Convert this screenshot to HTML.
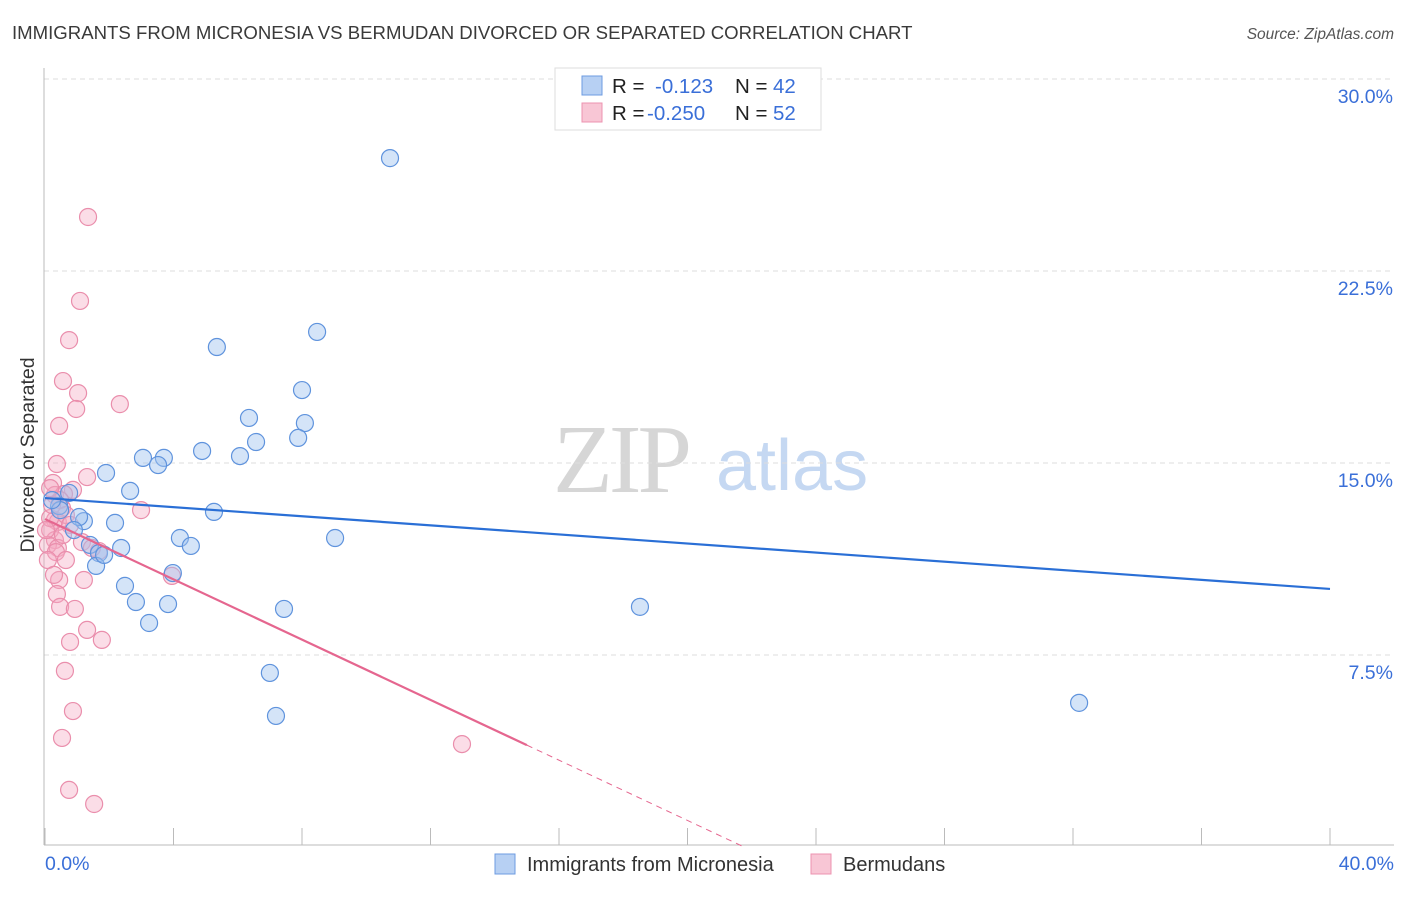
<!DOCTYPE html>
<html><head><meta charset="utf-8"><style>
body{margin:0;background:#fff;font-family:"Liberation Sans",sans-serif}
svg text{font-family:"Liberation Sans",sans-serif}
</style></head><body>
<svg id="chart" width="1406" height="892" viewBox="0 0 1406 892" xmlns="http://www.w3.org/2000/svg">
<text x="12" y="39" font-size="18.6" fill="#3a3a3a">IMMIGRANTS FROM MICRONESIA VS BERMUDAN DIVORCED OR SEPARATED CORRELATION CHART</text>
<text x="1394" y="39" font-size="15.5" fill="#555" font-style="italic" text-anchor="end">Source: ZipAtlas.com</text>
<g>
<text x="553" y="492" font-size="98" font-family="Liberation Serif" fill="#d6d6d6" letter-spacing="-4" style="font-family:'Liberation Serif',serif">ZIP</text>
<text x="716" y="490" font-size="72" fill="#c5d8f2">atlas</text>
</g>
<text transform="translate(34,455) rotate(-90)" font-size="19.5" fill="#333" text-anchor="middle">Divorced or Separated</text>
<g id="grid"></g>
<g id="axes"></g>
<g id="pts"></g>
<g id="lines"></g>
<g>
<rect x="555" y="68" width="266" height="62" fill="#fff" stroke="#ddd"/>
<rect x="582" y="76" width="20" height="19" fill="#b7d0f3" stroke="#6d9be0"/>
<rect x="582" y="103" width="20" height="19" fill="#f8c6d5" stroke="#ec93b0"/>
<text x="612" y="93" font-size="20.5" fill="#222">R = </text><text x="655" y="93" font-size="20.5" fill="#3a6fd8">-0.123</text>
<text x="735" y="93" font-size="20.5" fill="#222">N = </text><text x="773" y="93" font-size="20.5" fill="#3a6fd8">42</text>
<text x="612" y="120" font-size="20.5" fill="#222">R = </text><text x="647" y="120" font-size="20.5" fill="#3a6fd8">-0.250</text>
<text x="735" y="120" font-size="20.5" fill="#222">N = </text><text x="773" y="120" font-size="20.5" fill="#3a6fd8">52</text>
</g>
<g>
<rect x="495" y="854" width="20" height="20" fill="#b7d0f3" stroke="#6d9be0"/>
<text x="527" y="871" font-size="20" fill="#333">Immigrants from Micronesia</text>
<rect x="811" y="854" width="20" height="20" fill="#f8c6d5" stroke="#ec93b0"/>
<text x="843" y="871" font-size="20" fill="#333">Bermudans</text>
</g>
</svg>
<script>
const blueX=[10.74,8.47,5.35,8.00,6.35,8.09,6.57,7.88,4.89,6.07,3.05,3.70,3.52,1.90,2.65,0.75,0.44,5.26,2.18,1.21,1.06,4.20,9.03,4.54,2.37,1.40,1.68,1.59,3.98,2.49,2.83,3.83,7.44,18.52,3.24,7.00,7.19,32.19,0.90,0.47,1.84,0.22];
const blueY=[26.91,20.12,19.53,17.85,16.76,16.56,15.82,15.98,15.47,15.27,15.20,15.20,14.92,14.61,13.91,13.83,13.32,13.09,12.66,12.73,12.89,12.07,12.07,11.76,11.68,11.80,11.48,10.98,10.70,10.20,9.57,9.49,9.30,9.38,8.75,6.80,5.12,5.63,12.38,13.16,11.41,13.55];
const pinkX=[1.34,1.09,0.75,0.56,1.03,2.33,0.97,0.44,0.37,0.25,1.31,0.87,0.31,0.59,0.53,2.99,0.31,0.40,0.16,0.31,0.09,0.40,1.15,1.68,0.34,3.95,0.44,1.21,0.37,0.47,0.93,1.31,0.78,1.77,0.62,0.87,0.53,0.75,1.53,12.98,0.16,0.47,0.65,0.22,0.03,0.09,0.78,0.56,1.46,0.28,0.65,0.16];
const pinkY=[24.61,21.33,19.80,18.20,17.73,17.30,17.11,16.45,14.96,14.22,14.45,13.95,13.75,13.79,13.24,13.16,12.77,12.70,12.38,11.99,11.80,11.68,11.91,11.56,11.52,10.59,10.43,10.43,9.88,9.38,9.30,8.48,8.01,8.09,6.88,5.31,4.26,2.23,1.68,4.02,12.85,13.55,12.97,13.36,12.38,11.21,12.58,12.19,11.68,10.63,11.21,14.02];
const yTicks=[7.5,15,22.5,30];
const yTickLabels=["7.5%","15.0%","22.5%","30.0%"];
const xTicks=[0,4,8,12,16,20,24,28,32,36,40];
const xTickLabels=["0.0%","40.0%"];
const blueTrend=[13.63,10.08];
const pinkTrend=[12.81,3.98,15];
const NS="http://www.w3.org/2000/svg";
const X=v=>45+v/40*1285, Y=v=>847-v/7.5*192;
function mk(t,p,a){const e=document.createElementNS(NS,t);for(const k in a)e.setAttribute(k,a[k]);document.getElementById(p).appendChild(e);return e;}
yTicks.forEach((t,i)=>{
 const g=mk('line','grid',{x1:44,x2:1394,y1:Y(t),y2:Y(t),stroke:'#ddd','stroke-dasharray':'5,4'});
 
 
 const l=mk('text','grid',{x:1393,y:Y(t)+24,'font-size':19.5,fill:'#3a6fd8','text-anchor':'end'});
 l.textContent=yTickLabels[i];
 
 
});
const ax=mk('line','axes',{x1:44,x2:44,y1:68,y2:845,stroke:'#bbb'});


const bx=mk('line','axes',{x1:44,x2:1394,y1:845,y2:845,stroke:'#bbb'});


xTicks.forEach(t=>{const k=mk('line','axes',{x1:X(t),x2:X(t),y1:828,y2:845,stroke:'#bbb'});
 
 });
const xl0=mk('text','axes',{x:45,y:870,'font-size':19.5,fill:'#3a6fd8'});xl0.textContent=xTickLabels[0];


const xl1=mk('text','axes',{x:1394,y:870,'font-size':19.5,fill:'#3a6fd8','text-anchor':'end'});xl1.textContent=xTickLabels[1];


pinkX.forEach((v,i)=>{const c=mk('circle','pts',{cx:X(v),cy:Y(pinkY[i]),r:8.5,fill:'rgba(246,170,195,0.4)',stroke:'#ea8eac','stroke-width':1.2});
 
 });
blueX.forEach((v,i)=>{const c=mk('circle','pts',{cx:X(v),cy:Y(blueY[i]),r:8.5,fill:'rgba(160,195,240,0.45)',stroke:'#5f93dd','stroke-width':1.2});
 
 });
const bl=mk('line','lines',{x1:X(0),y1:Y(blueTrend[0]),x2:X(40),y2:Y(blueTrend[1]),stroke:'#2a6fd6','stroke-width':2.2});


const pl=mk('line','lines',{x1:X(0),y1:Y(pinkTrend[0]),x2:X(pinkTrend[2]),y2:Y(pinkTrend[1]),stroke:'#e5668f','stroke-width':2.2});


const slope=(pinkTrend[1]-pinkTrend[0])/pinkTrend[2];const xz=-pinkTrend[0]/slope;
const pd=mk('line','lines',{x1:X(pinkTrend[2]),y1:Y(pinkTrend[1]),x2:X(xz),y2:Y(0),stroke:'#e5668f','stroke-width':1,'stroke-dasharray':'6,5'});


</script>
</body></html>
